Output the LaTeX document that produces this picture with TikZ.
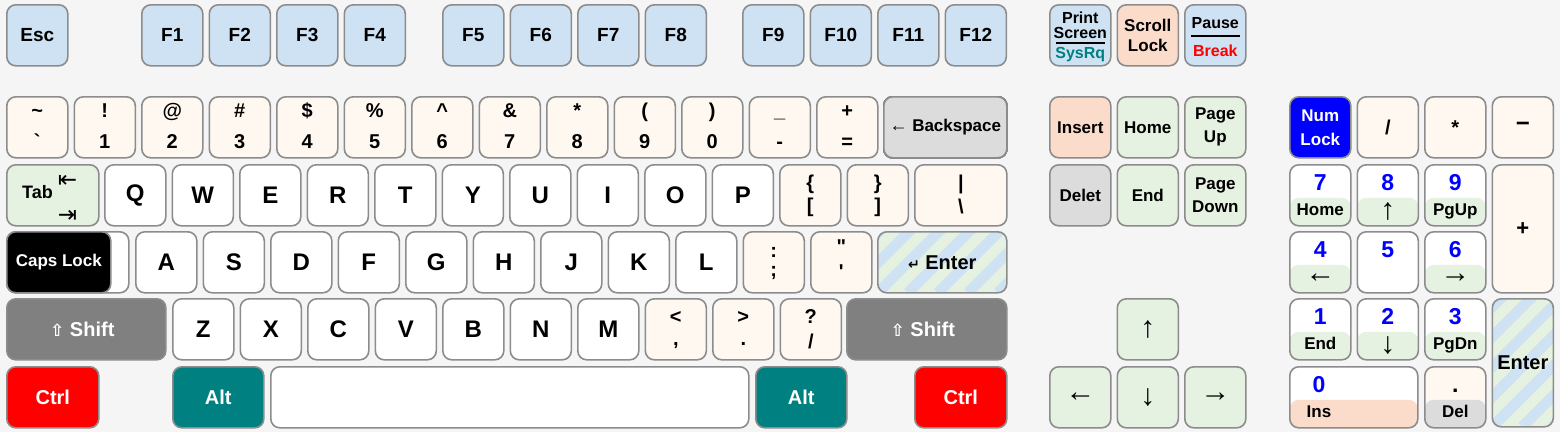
\documentclass[tikz,border=0pt]{standalone}
\usepackage{fontspec}
\setmainfont{Liberation Sans}
\newfontfamily\plainsans{Liberation Sans}
\newfontfamily\arrowfont{DejaVu Sans}
\usetikzlibrary{arrows.meta}

\definecolor{bgcolor}{HTML}{F5F5F5}
\definecolor{keyborder}{HTML}{8C8C8C}
\definecolor{keyblue}{HTML}{CFE2F3}
\definecolor{keycream}{HTML}{FFF8F1}
\definecolor{keygreen}{HTML}{E6F2E1}
\definecolor{keygray}{HTML}{DCDCDC}
\definecolor{keypeach}{HTML}{FBDCCB}
\definecolor{shiftgray}{HTML}{808080}
\definecolor{altteal}{HTML}{008080}
\definecolor{numblue}{HTML}{0000FF}

\tikzset{
  keycap/.style={draw=keyborder, line width=1.6pt, rounded corners=9pt, fill=white,
    anchor=north west, minimum width=61pt, minimum height=61pt, inner sep=0pt,
    align=center, text=black, font=\bfseries\fontsize{20}{22}\selectfont},
  letter/.style={font=\bfseries\fontsize{24}{24}\selectfont},
  fkey/.style={fill=keyblue, font=\bfseries\fontsize{19}{20}\selectfont},
  navkey/.style={fill=keygreen, font=\bfseries\fontsize{17}{23}\selectfont},
  modkey/.style={text=white, font=\bfseries\fontsize{20}{22}\selectfont},
  arrowkey/.style={fill=keygreen, font=\bfseries\fontsize{30}{30}\selectfont},
  symtext/.style={anchor=base, inner sep=0pt, font=\bfseries\fontsize{20}{20}\selectfont},
  smalltext/.style={anchor=base, inner sep=0pt, font=\bfseries\fontsize{16}{16}\selectfont},
  digit/.style={anchor=base, inner sep=0pt, text=numblue, font=\bfseries\fontsize{23}{23}\selectfont},
  sublabel/.style={anchor=base, inner sep=0pt, font=\bfseries\fontsize{17}{17}\selectfont},
  halfkey/.style={path picture={
    \fill[#1] (path picture bounding box.south west) rectangle ([yshift=28pt]path picture bounding box.south east);}},
  enterstripes/.style={fill=keygreen, path picture={
    \foreach \s in {-8,...,8}
      \draw[keyblue, line width=10.6pt] ([xshift=\s*30pt]path picture bounding box.south west) -- ++(200pt,200pt);}},
}

% key with a symbol above and one below
\newcommand{\symcap}[7]{
  \node[keycap, fill=keycream] (#1) at (#2,#3) {};
  \node[symtext] (#1-up) at ([yshift=-#6pt]#1.north) {#4};
  \node[symtext] (#1-dn) at ([yshift=#7pt]#1.south) {#5};
}
% numpad key: blue digit on top, second function below
\newcommand{\padcap}[7][white]{
  \node[keycap, fill=#1, halfkey=#7] (#2) at (#3,#4) {};
  \node[digit] (#2-num) at ([yshift=-26pt]#2.north) {#5};
  \node[sublabel] (#2-sub) at ([yshift=11pt]#2.south) {#6};
}
\newcommand{\bigarrow}[1]{{\fontsize{30}{30}\selectfont #1}}
\newcommand{\tallarrow}[1]{\raisebox{-4pt}{\fontsize{30}{30}\selectfont #1}}

\begin{document}
\begin{tikzpicture}[x=1pt, y=-1pt]
  \useasboundingbox (0,0) rectangle (1560,432);
  \fill[bgcolor] (0,0) rectangle (1560,432);

  % Function row
  \node[keycap, fkey] (esc) at (6,4) {Esc};
  \foreach \f [count=\i from 0] in {1,2,3,4}
    \node[keycap, fkey] (f\f) at (141+\i*67.5,4) {F\f};
  \foreach \f [count=\i from 0] in {5,6,7,8}
    \node[keycap, fkey] (f\f) at (442+\i*67.5,4) {F\f};
  \foreach \f [count=\i from 0] in {9,10,11,12}
    \node[keycap, fkey] (f\f) at (742+\i*67.5,4) {F\f};

  % Print Screen / Scroll Lock / Pause
  \node[keycap, fill=keyblue] (prtsc) at (1049,4) {};
  \node[smalltext] (prtsc-a) at ([yshift=-19pt]prtsc.north) {Print};
  \node[smalltext] (prtsc-b) at ([yshift=-34pt]prtsc.north) {Screen};
  \draw[line width=1.6pt] ([xshift=-24.5pt, yshift=-39pt]prtsc.north) -- ([xshift=24.5pt, yshift=-39pt]prtsc.north);
  \node[smalltext, text=altteal] (prtsc-c) at ([yshift=-54pt]prtsc.north) {SysRq};
  \node[keycap, fill=keypeach, font=\bfseries\fontsize{17}{20}\selectfont] (scroll) at (1116.5,4) {Scroll\\Lock};
  \node[keycap, fill=keyblue] (pause) at (1184,4) {};
  \node[smalltext] (pause-a) at ([yshift=-24pt]pause.north) {Pause};
  \draw[line width=1.6pt] ([xshift=-24.5pt, yshift=-32pt]pause.north) -- ([xshift=24.5pt, yshift=-32pt]pause.north);
  \node[smalltext, text=red] (pause-b) at ([yshift=-52pt]pause.north) {Break};

  % Number row
  \foreach \up/\dn [count=\i from 0] in {\textasciitilde/{\plainsans`}, !/1, @/2, \#/3, \$/4, \%/5,
      \textasciicircum/6, \&/7, */8, {(}/9, {)}/0, \_/-, +/=}
    \symcap{num\i}{6+\i*67.5}{96}{\up}{\dn}{21}{10}
  \node[keycap, fill=keygray, minimum width=123pt, font=\bfseries\fontsize{17}{20}\selectfont] (bksp) at (883,96)
    {{\fontsize{18}{18}\selectfont ←} Backspace};

  % Tab row
  \node[keycap, fill=keygreen, minimum width=92pt] (tab) at (6,164) {};
  \node[inner sep=0pt, font=\bfseries\fontsize{18}{18}\selectfont] (tab-text) at (37.5,192) {Tab};
  \node[inner sep=0pt, font=\arrowfont\fontsize{23}{23}\selectfont] (tab-back) at (67.5,181.5) {⇤};
  \node[inner sep=0pt, font=\arrowfont\fontsize{23}{23}\selectfont] (tab-fwd) at (67.5,216) {⇥};
  \foreach \l [count=\i from 0] in {Q,W,E,R,T,Y,U,I,O,P}
    \node[keycap, letter] (key\l) at (104+\i*67.5,164) {\l};
  \symcap{lbrack}{779}{164}{\{}{[}{25}{14}
  \symcap{rbrack}{846.5}{164}{\}}{]}{25}{14}
  \node[keycap, fill=keycream, minimum width=92pt] (bslash) at (914,164) {};
  \node[symtext] (bslash-up) at ([yshift=-25pt]bslash.north) {|};
  \node[symtext] (bslash-dn) at ([yshift=13pt]bslash.south) {\textbackslash};

  % Caps Lock row
  \node[keycap, minimum width=122pt] (capsbase) at (6,231) {};
  \node[keycap, fill=black, minimum width=104pt, text=white, font=\bfseries\fontsize{17}{17}\selectfont] (caps) at (6,231) {Caps Lock};
  \foreach \l [count=\i from 0] in {A,S,D,F,G,H,J,K,L}
    \node[keycap, letter] (key\l) at (135+\i*67.5,231) {\l};
  \symcap{semi}{742.5}{231}{:}{;}{26}{17}
  \symcap{quote}{810}{231}{{\plainsans"}}{{\plainsans'}}{22}{15}
  \node[keycap, enterstripes, minimum width=129pt] (enter) at (877,231)
    {{\arrowfont\fontsize{14}{14}\selectfont ↵} Enter};

  % Shift row
  \node[keycap, fill=shiftgray, modkey, minimum width=159pt] (lshift) at (6,298)
    {{\arrowfont\fontsize{17}{17}\selectfont ⇧} Shift\kern8pt};
  \foreach \l [count=\i from 0] in {Z,X,C,V,B,N,M}
    \node[keycap, letter] (key\l) at (172+\i*67.5,298) {\l};
  \symcap{comma}{644.5}{298}{<}{,}{25}{15}
  \symcap{period}{712}{298}{>}{.}{25}{15}
  \symcap{slash}{779.5}{298}{?}{/}{25}{12}
  \node[keycap, fill=shiftgray, modkey, minimum width=160pt] (rshift) at (846,298)
    {{\arrowfont\fontsize{17}{17}\selectfont ⇧} Shift\kern8pt};

  % Bottom row
  \node[keycap, fill=red, modkey, minimum width=92pt] (lctrl) at (6,366) {Ctrl};
  \node[keycap, fill=altteal, modkey, minimum width=91pt] (lalt) at (172,366) {Alt};
  \node[keycap, minimum width=478pt] (space) at (270,366) {};
  \node[keycap, fill=altteal, modkey, minimum width=91pt] (ralt) at (755,366) {Alt};
  \node[keycap, fill=red, modkey, minimum width=92pt] (rctrl) at (914,366) {Ctrl};

  % Navigation block
  \node[keycap, fill=keypeach, font=\bfseries\fontsize{17}{20}\selectfont] (ins) at (1049,96) {Insert};
  \node[keycap, navkey] (home) at (1116.5,96) {Home};
  \node[keycap, navkey] (pgup) at (1184,96) {Page\\Up};
  \node[keycap, fill=keygray, font=\bfseries\fontsize{17}{20}\selectfont] (del) at (1049,164) {Delet};
  \node[keycap, navkey] (end) at (1116.5,164) {End};
  \node[keycap, navkey] (pgdn) at (1184,164) {Page\\Down};

  % Arrow keys
  \node[keycap, arrowkey] (arrup) at (1116.5,298) {↑};
  \node[keycap, arrowkey] (arrleft) at (1049,366) {←};
  \node[keycap, arrowkey] (arrdown) at (1116.5,366) {↓};
  \node[keycap, arrowkey] (arrright) at (1184,366) {→};

  % Numeric keypad
  \node[keycap, fill=numblue, modkey, font=\bfseries\fontsize{17}{24}\selectfont] (numlock) at (1289,96) {Num\\Lock};
  \node[keycap, fill=keycream] (npslash) at (1356.5,96) {/};
  \node[keycap, fill=keycream] (npstar) at (1424,96) {*};
  \node[keycap, fill=keycream, font=\bfseries\fontsize{24}{24}\selectfont] (npminus) at (1491.5,96) {−};
  \padcap{np7}{1289}{164}{7}{Home}{keygreen}
  \padcap{np8}{1356.5}{164}{8}{\tallarrow{↑}}{keygreen}
  \padcap{np9}{1424}{164}{9}{PgUp}{keygreen}
  \node[keycap, fill=keycream, minimum height=128pt, font=\bfseries\fontsize{22}{22}\selectfont] (npplus) at (1491.5,164) {+};
  \padcap{np4}{1289}{231}{4}{\bigarrow{←}}{keygreen}
  \padcap{np5}{1356.5}{231}{5}{}{white}
  \padcap{np6}{1424}{231}{6}{\bigarrow{→}}{keygreen}
  \padcap{np1}{1289}{298}{1}{End}{keygreen}
  \padcap{np2}{1356.5}{298}{2}{\tallarrow{↓}}{keygreen}
  \padcap{np3}{1424}{298}{3}{PgDn}{keygreen}
  \node[keycap, enterstripes, minimum height=128pt] (npenter) at (1491.5,298) {Enter};
  \node[keycap, halfkey=keypeach, minimum width=128pt] (np0) at (1289,366) {};
  \node[digit] (np0-num) at ([xshift=30pt, yshift=-26pt]np0.north west) {0};
  \node[sublabel] (np0-sub) at ([xshift=30pt, yshift=11pt]np0.south west) {Ins};
  \padcap[keycream]{npdot}{1424}{366}{\color{black}.}{Del}{keygray}
\end{tikzpicture}
\end{document}
